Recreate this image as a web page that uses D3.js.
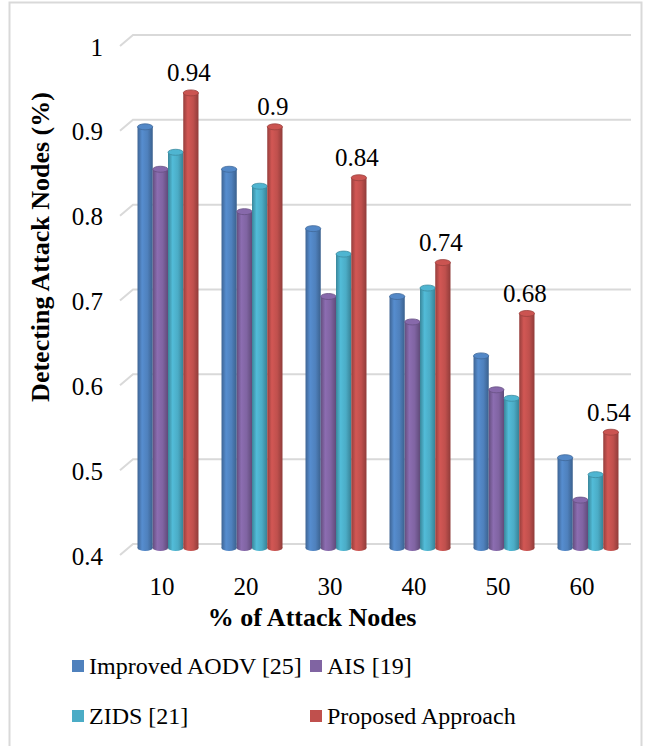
<!DOCTYPE html>
<html>
<head>
<meta charset="utf-8">
<script src="https://cdn.jsdelivr.net/npm/d3@7"></script>
<style>
  html, body { margin: 0; padding: 0; background: #fff; }
  svg { display: block; }
</style>
</head>
<body>
<svg id="chart" width="648" height="746"></svg>
<script>
// ---- data ----
const categories = ["10", "20", "30", "40", "50", "60"];
const seriesNames = ["Improved AODV [25]", "AIS [19]", "ZIDS [21]", "Proposed Approach"];
const improvedAODV = [0.90, 0.85, 0.78, 0.70, 0.63, 0.51];
const ais = [0.85, 0.80, 0.70, 0.67, 0.59, 0.46];
const zids = [0.87, 0.83, 0.75, 0.71, 0.58, 0.49];
const proposed = [0.94, 0.90, 0.84, 0.74, 0.68, 0.54];
const yTicks = [0.4, 0.5, 0.6, 0.7, 0.8, 0.9, 1];
const yTickLabels = ["0.4", "0.5", "0.6", "0.7", "0.8", "0.9", "1"];
const colors = ["#4F81BD", "#8064A2", "#4BACC6", "#C0504D"];

const seriesValues = [improvedAODV, ais, zids, proposed];
const FONT = "'Liberation Serif', 'Times New Roman', Times, serif";

const svg = d3.select("#chart");
const defs = svg.append("defs");

// outer border
svg.append("rect")
  .attr("x", 9.5).attr("y", 2.5).attr("width", 632).attr("height", 750)
  .attr("fill", "none").attr("stroke", "#d9d9d9").attr("stroke-width", 2);

const y = d3.scaleLinear().domain([0.4, 1]).range([551, 42]);
const x0 = d3.scaleBand().domain(categories).range([126, 630]).paddingInner(0.274).paddingOuter(0.137);
const x1 = d3.scaleBand().domain(d3.range(4)).range([0, x0.bandwidth()]);

// gridlines (3D floor/back wall style)
const grid = svg.append("g");
yTicks.forEach(t => {
  const yy = y(t);
  grid.append("path")
    .attr("d", `M120,${yy + 4} L133,${yy - 7} L631,${yy - 7}`)
    .attr("fill", "none").attr("stroke", "#d9d9d9").attr("stroke-width", 2);
});

// y tick labels
svg.append("g").selectAll("text").data(yTicks).join("text")
  .attr("x", 103).attr("y", d => y(d) + 5)
  .attr("text-anchor", "end").attr("dominant-baseline", "central")
  .attr("font-family", FONT).attr("font-size", 25)
  .text((d, i) => yTickLabels[i]);

// gradients
colors.forEach((c, i) => {
  const g = defs.append("linearGradient").attr("id", "grad" + i)
    .attr("x1", "0").attr("x2", "1").attr("y1", "0").attr("y2", "0");
  const base = d3.color(c);
  g.append("stop").attr("offset", "0%").attr("stop-color", base.darker(0.7));
  g.append("stop").attr("offset", "30%").attr("stop-color", base.brighter(0.25));
  g.append("stop").attr("offset", "65%").attr("stop-color", base);
  g.append("stop").attr("offset", "100%").attr("stop-color", base.darker(0.8));
});

// bars (cylinders)
const bars = svg.append("g");
const ry = 3;
categories.forEach((cat, ci) => {
  seriesValues.forEach((vals, si) => {
    const v = vals[ci];
    const bx = x0(cat) + x1(si);
    const bw = x1.bandwidth();
    const top = y(v);
    const bottom = y(0.4) - 3;
    const g = bars.append("g");
    g.append("ellipse")
      .attr("cx", bx + bw / 2).attr("cy", bottom).attr("rx", bw / 2).attr("ry", ry)
      .attr("fill", `url(#grad${si})`);
    g.append("rect")
      .attr("x", bx).attr("y", top).attr("width", bw).attr("height", bottom - top)
      .attr("fill", `url(#grad${si})`);
    g.append("ellipse")
      .attr("cx", bx + bw / 2).attr("cy", top).attr("rx", bw / 2).attr("ry", ry)
      .attr("fill", d3.color(colors[si]).brighter(0.15))
      .attr("stroke", d3.color(colors[si]).darker(0.6)).attr("stroke-width", 0.8);
  });
  // data label for Proposed Approach
  const px = x0(cat) + x1(3) + x1.bandwidth() / 2 - 2;
  svg.append("text")
    .attr("x", px).attr("y", y(proposed[ci]) - 20)
    .attr("text-anchor", "middle").attr("dominant-baseline", "central")
    .attr("font-family", FONT).attr("font-size", 25)
    .text(String(proposed[ci]));
});

// x tick labels
svg.append("g").selectAll("text").data(categories).join("text")
  .attr("x", d => x0(d) + x0.bandwidth() / 2 - 6)
  .attr("y", 586)
  .attr("text-anchor", "middle").attr("dominant-baseline", "central")
  .attr("font-family", FONT).attr("font-size", 25)
  .text(d => d);

// axis titles
svg.append("text")
  .attr("x", 312).attr("y", 617)
  .attr("text-anchor", "middle").attr("dominant-baseline", "central")
  .attr("font-family", FONT).attr("font-size", 26).attr("font-weight", "bold")
  .text("% of Attack Nodes");

svg.append("text")
  .attr("transform", "translate(40,247) rotate(-90)")
  .attr("text-anchor", "middle").attr("dominant-baseline", "central")
  .attr("font-family", FONT).attr("font-size", 26).attr("font-weight", "bold")
  .text("Detecting Attack Nodes (%)");

// legend
const legendPos = [[72, 666], [310, 666], [72, 716], [310, 716]];
const legend = svg.append("g");
seriesNames.forEach((name, i) => {
  const [lx, ly] = legendPos[i];
  legend.append("rect")
    .attr("x", lx).attr("y", ly - 6).attr("width", 12).attr("height", 12)
    .attr("fill", colors[i]);
  legend.append("text")
    .attr("x", lx + 17).attr("y", ly)
    .attr("dominant-baseline", "central")
    .attr("font-family", FONT).attr("font-size", 24)
    .text(name);
});
</script>
</body>
</html>
